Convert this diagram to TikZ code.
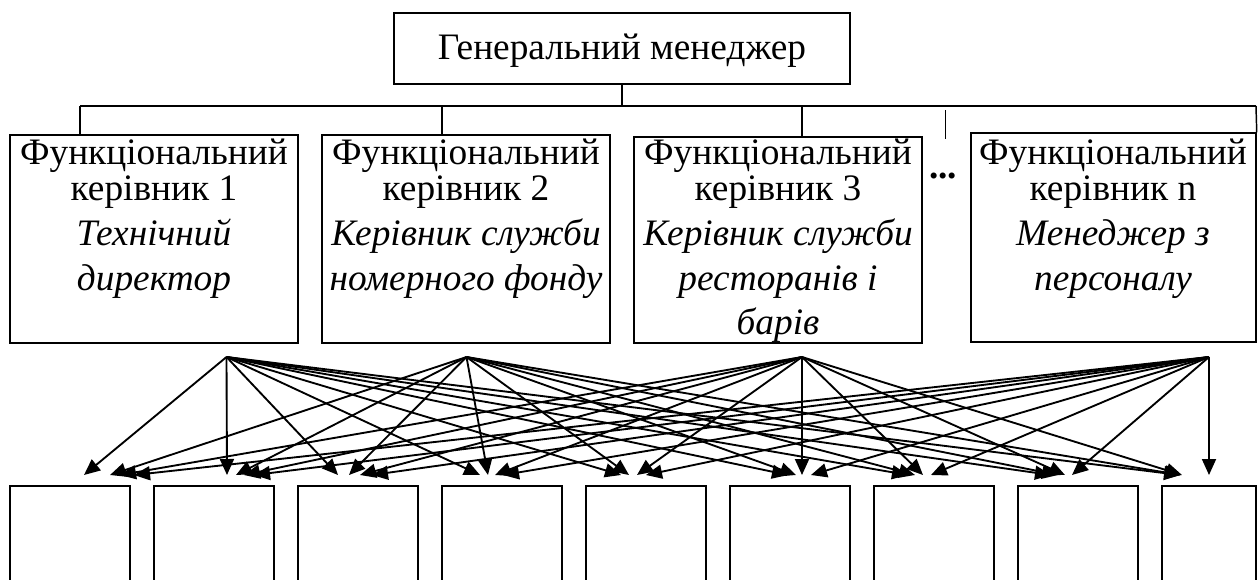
\documentclass[tikz,border=0pt]{standalone}
\usepackage{fontspec}
\setmainfont{Liberation Serif}
\usetikzlibrary{arrows.meta,fit}

\begin{document}
\begin{tikzpicture}[x=0.75pt,y=-0.75pt,
  box/.style={draw, line width=1.1pt, inner sep=0pt},
  bus/.style={line width=1.1pt},
  link/.style={line width=1.4pt, -{Triangle[length=12pt,width=10.5pt]}},
  big/.style={font=\fontsize{28}{27}\selectfont},
  lbl/.style={big, align=center, anchor=north, inner sep=0pt}]
\useasboundingbox (0,0) rectangle (1258,579);
\clip (0,0) rectangle (1258,579);

% general manager
\node[box, fit={(394,13) (850,84)}] (gm) {};
\node[big, inner sep=0pt] (gmt) at ([yshift=-2]gm.center) {Генеральний менеджер};

% functional managers
\node[box, fit={(10,135) (298,343)}] (f1) {};
\node[box, fit={(322,135) (610,343)}] (f2) {};
\node[box, fit={(634,137) (922,343)}] (f3) {};
\node[box, fit={(971,133) (1256,342)}] (f4) {};

\node[lbl] (f1t) at (154,139) {Функціональний\\керівник 1\\[6.5pt]\itshape Технічний\\[6.5pt]\itshape директор};
\node[lbl] (f2t) at (466,139) {Функціональний\\керівник 2\\[6.5pt]\itshape Керівник служби\\[6.5pt]\itshape номерного фонду};
\node[lbl] (f3t) at (778,139) {Функціональний\\керівник 3\\[6.5pt]\itshape Керівник служби\\[6.5pt]\itshape ресторанів і\\[6.5pt]\itshape барів};
\node[lbl] (f4t) at (1113,139) {Функціональний\\керівник n\\[6.5pt]\itshape Менеджер з\\[6.5pt]\itshape персоналу};
\node[big, inner sep=0pt] (dots) at (943,176) {\bfseries ...};

% bus from the general manager
\coordinate (busL) at (80,106);
\coordinate (busR) at (1256,106);
\draw[bus] (busL) -- (busR);
\draw[bus] (busL) -- (busL |- f1.north);
\draw[bus] (442,106) -- (442,135);
\draw[bus] (802,106) -- (802,137);
\draw[bus] (busR) -- (f4.north east);
\draw[bus] (gm.south) -- (gm.south |- busL);
\coordinate (tkA) at (945.5,110);
\coordinate (tkB) at (945.5,139);
\draw[bus] (tkA) -- (tkB);

% executing units
\foreach \k/\xa/\xb in {1/10/130, 2/154/274, 3/298/418, 4/442/562, 5/586/706,
                        6/730/850, 7/874/994, 8/1018/1138, 9/1162/1256}
  \node[box, fit={(\xa,486) (\xb,600)}] (u\k) {};

% sources below each functional manager
\coordinate (s1) at (226.5,357);
\coordinate (s2) at (466.5,357);
\coordinate (s3) at (802,357);
\coordinate (s4) at (1209,357);

% arrow tips above each unit, one per source
\foreach \j/\a/\b/\c/\d in {1/84/110/120/134, 2/227/236/244/254, 3/338/349/360/372,
                            4/480/488/495/503, 5/621/629/637/646, 6/788/796/802/811,
                            7/908/915/923/931, 8/1051/1058/1065/1072, 9/1180/1181/1182/1209} {
  \coordinate (t1-\j) at (\a,475);
  \coordinate (t2-\j) at (\b,475);
  \coordinate (t3-\j) at (\c,475);
  \coordinate (t4-\j) at (\d,475);
}
\foreach \i in {1,2,3,4}
  \foreach \j in {1,...,9}
    \draw[link] (s\i) -- (t\i-\j);
\end{tikzpicture}
\end{document}
